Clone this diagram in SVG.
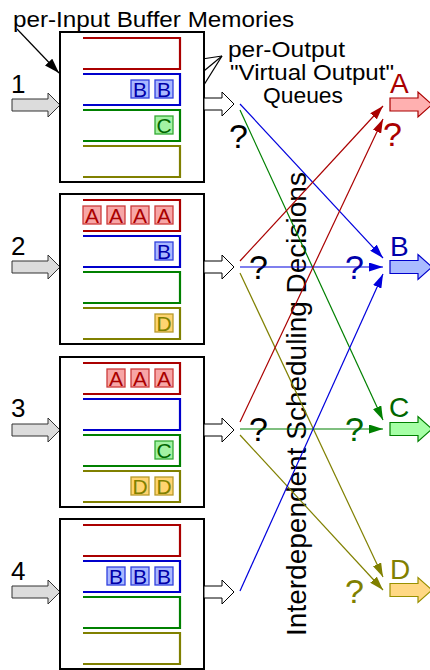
<svg xmlns="http://www.w3.org/2000/svg" width="430" height="670" viewBox="0 0 430 670">
  <style>
    text { font-family: "Liberation Sans", Arial, sans-serif; }
    .box { fill: #ffffff; stroke: #000000; stroke-width: 2; }
    .in-arrow { fill: #dcdcdc; stroke: #333333; stroke-width: 1; }
    .out-arrow { fill: #ffffff; stroke: #000000; stroke-width: 1; }
    .q { fill: none; stroke-width: 2.2; }
    .q-a { stroke: #aa0000; }
    .q-b { stroke: #0000cc; }
    .q-c { stroke: #008000; }
    .q-d { stroke: #808000; }
    .pk { stroke-width: 1.3; }
    .pk-a { fill: #f7a6a6; stroke: #cc3b3b; }
    .pk-b { fill: #a9b8ff; stroke: #3040dd; }
    .pk-c { fill: #a3f2a3; stroke: #33aa33; }
    .pk-d { fill: #ffd470; stroke: #b89a2a; }
    .pl { font-size: 21px; text-anchor: middle; }
    .t-a { fill: #aa0000; }
    .t-b { fill: #0000aa; }
    .t-c { fill: #006600; }
    .t-d { fill: #808000; }
    .num { font-size: 26px; fill: #000000; }
    .qm { font-size: 34px; }
    .lbl { font-size: 28px; }
    .note { font-size: 22px; fill: #000000; }
    .link { fill: none; stroke-width: 1.2; }
    .l-a { stroke: #aa0000; marker-end: url(#ah-a); }
    .l-b { stroke: #0000dd; marker-end: url(#ah-b); }
    .l-c { stroke: #008000; marker-end: url(#ah-c); }
    .l-d { stroke: #808000; marker-end: url(#ah-d); }
    .ptr { fill: none; stroke: #000000; stroke-width: 1.2; marker-end: url(#ah-k); }
    .o-a { fill: #ffb0b0; stroke: #aa0000; stroke-width: 1.2; }
    .o-b { fill: #aabbff; stroke: #0000cc; stroke-width: 1.2; }
    .o-c { fill: #a6ffa6; stroke: #008000; stroke-width: 1.2; }
    .o-d { fill: #ffd884; stroke: #999000; stroke-width: 1.2; }
  </style>
  <defs>
    <marker id="ah-a" viewBox="0 0 14 9" refX="14" refY="4.5" markerWidth="14" markerHeight="9" markerUnits="userSpaceOnUse" orient="auto"><path d="M0,0 L14,4.5 L0,9 Z" fill="#aa0000"/></marker>
    <marker id="ah-b" viewBox="0 0 14 9" refX="14" refY="4.5" markerWidth="14" markerHeight="9" markerUnits="userSpaceOnUse" orient="auto"><path d="M0,0 L14,4.5 L0,9 Z" fill="#0000dd"/></marker>
    <marker id="ah-c" viewBox="0 0 14 9" refX="14" refY="4.5" markerWidth="14" markerHeight="9" markerUnits="userSpaceOnUse" orient="auto"><path d="M0,0 L14,4.5 L0,9 Z" fill="#008000"/></marker>
    <marker id="ah-d" viewBox="0 0 14 9" refX="14" refY="4.5" markerWidth="14" markerHeight="9" markerUnits="userSpaceOnUse" orient="auto"><path d="M0,0 L14,4.5 L0,9 Z" fill="#808000"/></marker>
    <marker id="ah-k" viewBox="0 0 15 10" refX="15" refY="5" markerWidth="15" markerHeight="10" markerUnits="userSpaceOnUse" orient="auto"><path d="M0,0 L15,5 L0,10 Z" fill="#000000"/></marker>
  </defs>

  <!-- annotations -->
  <g id="annotations">
    <text class="note" x="13" y="27" textLength="281" lengthAdjust="spacingAndGlyphs">per-Input Buffer Memories</text>
    <path class="ptr" d="M17,29 L59,73"/>
    <text class="note" x="228" y="57" textLength="117" lengthAdjust="spacingAndGlyphs">per-Output</text>
    <text class="note" x="230" y="80" textLength="164" lengthAdjust="spacingAndGlyphs">"Virtual Output"</text>
    <text class="note" x="263" y="103" textLength="80" lengthAdjust="spacingAndGlyphs">Queues</text>
    <path class="ptr" d="M222,56 L182,62"/>
    <path class="ptr" d="M222,56 L187,85"/>
    <path class="ptr" d="M222,56 L187,112"/>
    <text transform="translate(306,404) rotate(-90)" text-anchor="middle" font-size="28" fill="#000000">Interdependent Scheduling Decisions</text>
  </g>

  <!-- input port 1 -->
  <g id="input1">
    <text class="num" x="11" y="93">1</text>
    <path class="in-arrow" d="M12,99 H48 V93 L60,105 L48,117 V111 H12 Z"/>
    <rect class="box" x="60" y="32" width="144" height="150"/>
    <path class="q q-a" d="M83,38 H180 V69 H83"/>
    <path class="q q-b" d="M83,74 H180 V105 H83"/>
    <path class="q q-c" d="M83,110 H180 V141 H83"/>
    <path class="q q-d" d="M83,146 H180 V177 H83"/>
    <rect class="pk pk-b" x="131" y="80" width="18" height="18"/><text class="pl t-b" x="140" y="96.5">B</text>
    <rect class="pk pk-b" x="155" y="80" width="18" height="18"/><text class="pl t-b" x="164" y="96.5">B</text>
    <rect class="pk pk-c" x="155" y="116" width="18" height="18"/><text class="pl t-c" x="164" y="132.5">C</text>
    <path class="out-arrow" d="M204,98 H222 V92 L234,104 L222,116 V110 H204 Z"/>
    <text class="qm" x="229" y="148">?</text>
  </g>

  <!-- input port 2 -->
  <g id="input2">
    <text class="num" x="11" y="255">2</text>
    <path class="in-arrow" d="M12,261 H48 V255 L60,267 L48,279 V273 H12 Z"/>
    <rect class="box" x="60" y="194" width="144" height="150"/>
    <path class="q q-a" d="M83,200 H180 V231 H83"/>
    <path class="q q-b" d="M83,236 H180 V267 H83"/>
    <path class="q q-c" d="M83,272 H180 V303 H83"/>
    <path class="q q-d" d="M83,308 H180 V339 H83"/>
    <rect class="pk pk-a" x="83" y="206" width="18" height="18"/><text class="pl t-a" x="92" y="222.5">A</text>
    <rect class="pk pk-a" x="107" y="206" width="18" height="18"/><text class="pl t-a" x="116" y="222.5">A</text>
    <rect class="pk pk-a" x="131" y="206" width="18" height="18"/><text class="pl t-a" x="140" y="222.5">A</text>
    <rect class="pk pk-a" x="155" y="206" width="18" height="18"/><text class="pl t-a" x="164" y="222.5">A</text>
    <rect class="pk pk-b" x="155" y="242" width="18" height="18"/><text class="pl t-b" x="164" y="258.5">B</text>
    <rect class="pk pk-d" x="155" y="314" width="18" height="18"/><text class="pl t-d" x="164" y="330.5">D</text>
    <path class="out-arrow" d="M204,261 H222 V255 L234,267 L222,279 V273 H204 Z"/>
    <text class="qm" x="249" y="279">?</text>
  </g>

  <!-- input port 3 -->
  <g id="input3">
    <text class="num" x="11" y="417">3</text>
    <path class="in-arrow" d="M12,424 H48 V418 L60,430 L48,442 V436 H12 Z"/>
    <rect class="box" x="60" y="357" width="144" height="150"/>
    <path class="q q-a" d="M83,363 H180 V394 H83"/>
    <path class="q q-b" d="M83,399 H180 V430 H83"/>
    <path class="q q-c" d="M83,435 H180 V466 H83"/>
    <path class="q q-d" d="M83,471 H180 V502 H83"/>
    <rect class="pk pk-a" x="107" y="369" width="18" height="18"/><text class="pl t-a" x="116" y="385.5">A</text>
    <rect class="pk pk-a" x="131" y="369" width="18" height="18"/><text class="pl t-a" x="140" y="385.5">A</text>
    <rect class="pk pk-a" x="155" y="369" width="18" height="18"/><text class="pl t-a" x="164" y="385.5">A</text>
    <rect class="pk pk-c" x="155" y="441" width="18" height="18"/><text class="pl t-c" x="164" y="457.5">C</text>
    <rect class="pk pk-d" x="131" y="477" width="18" height="18"/><text class="pl t-d" x="140" y="493.5">D</text>
    <rect class="pk pk-d" x="155" y="477" width="18" height="18"/><text class="pl t-d" x="164" y="493.5">D</text>
    <path class="out-arrow" d="M204,424 H222 V418 L234,430 L222,442 V436 H204 Z"/>
    <text class="qm" x="249" y="441">?</text>
  </g>

  <!-- input port 4 -->
  <g id="input4">
    <text class="num" x="11" y="580">4</text>
    <path class="in-arrow" d="M12,586 H48 V580 L60,592 L48,604 V598 H12 Z"/>
    <rect class="box" x="60" y="519" width="144" height="150"/>
    <path class="q q-a" d="M83,525 H180 V556 H83"/>
    <path class="q q-b" d="M83,561 H180 V592 H83"/>
    <path class="q q-c" d="M83,597 H180 V628 H83"/>
    <path class="q q-d" d="M83,633 H180 V664 H83"/>
    <rect class="pk pk-b" x="107" y="567" width="18" height="18"/><text class="pl t-b" x="116" y="583.5">B</text>
    <rect class="pk pk-b" x="131" y="567" width="18" height="18"/><text class="pl t-b" x="140" y="583.5">B</text>
    <rect class="pk pk-b" x="155" y="567" width="18" height="18"/><text class="pl t-b" x="164" y="583.5">B</text>
    <path class="out-arrow" d="M204,586 H222 V580 L234,592 L222,604 V598 H204 Z"/>
  </g>

  <!-- scheduling connectors -->
  <g id="connectors">
    <path class="link l-b" d="M240,104 L383,258"/>
    <path class="link l-c" d="M240,110 L383,420"/>
    <path class="link l-a" d="M240,261 L383,106"/>
    <path class="link l-b" d="M240,267 L383,267"/>
    <path class="link l-d" d="M240,273 L383,577"/>
    <path class="link l-a" d="M240,422 L383,119"/>
    <path class="link l-c" d="M240,429 L383,429"/>
    <path class="link l-d" d="M240,435 L383,590"/>
    <path class="link l-b" d="M240,591 L383,274"/>
  </g>

  <!-- output ports -->
  <g id="outputA">
    <text class="lbl t-a" x="390" y="93">A</text>
    <path class="o-a" d="M390,98 H418 V92 L432,104.5 L418,117 V111 H390 Z"/>
    <text class="qm t-a" x="383" y="146">?</text>
  </g>
  <g id="outputB">
    <text class="lbl t-b" x="390" y="256">B</text>
    <path class="o-b" d="M390,260.5 H418 V254.5 L432,267 L418,279.5 V273.5 H390 Z"/>
    <text class="qm t-b" x="345" y="279">?</text>
  </g>
  <g id="outputC">
    <text class="lbl t-c" x="389" y="417">C</text>
    <path class="o-c" d="M390,422.5 H418 V416.5 L432,429 L418,441.5 V435.5 H390 Z"/>
    <text class="qm t-c" x="345" y="441">?</text>
  </g>
  <g id="outputD">
    <text class="lbl t-d" x="390" y="579">D</text>
    <path class="o-d" d="M390,583.5 H418 V577.5 L432,590 L418,602.5 V596.5 H390 Z"/>
    <text class="qm t-d" x="345" y="603">?</text>
  </g>
</svg>
